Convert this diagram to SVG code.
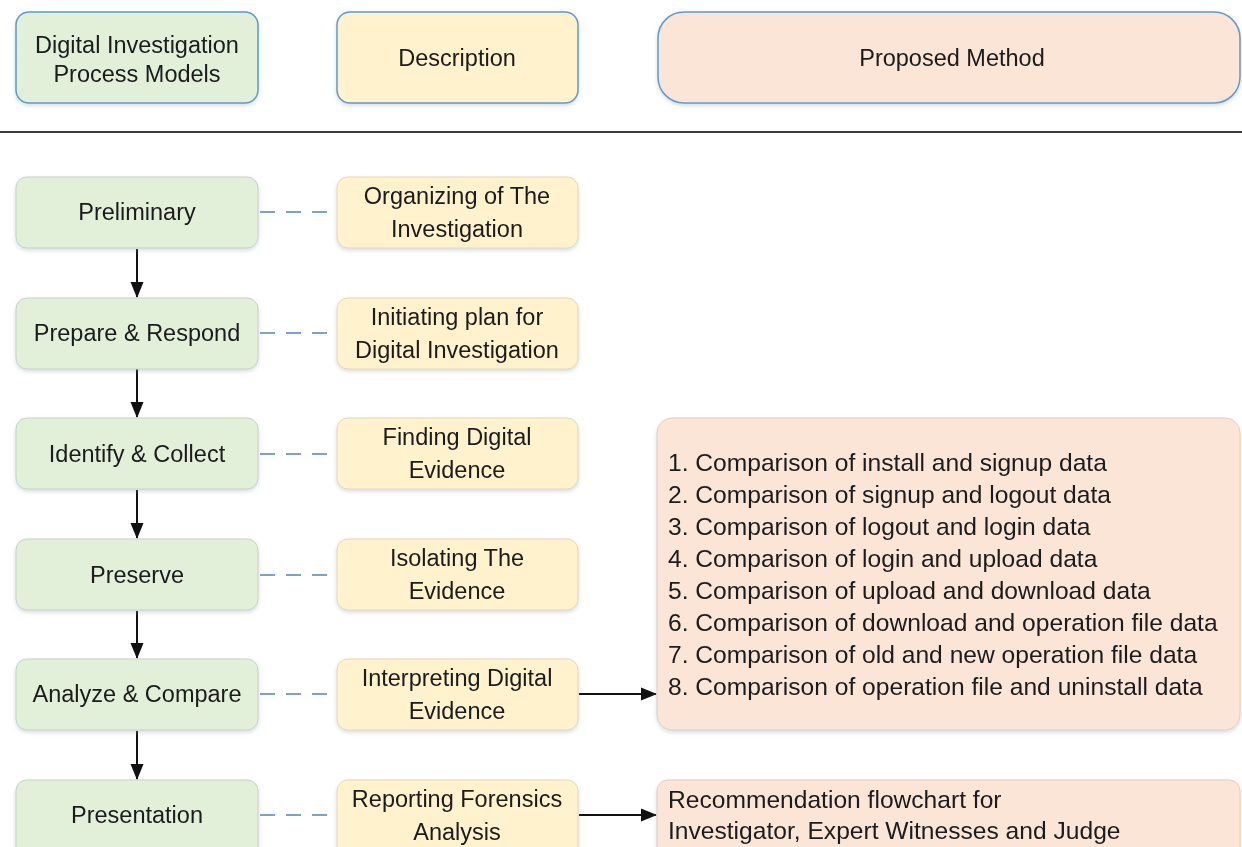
<svg xmlns="http://www.w3.org/2000/svg" width="1242" height="847" viewBox="0 0 1242 847">
  <defs>
    <style>
      text { font-family: "Liberation Sans", Arial, sans-serif; font-size: 23.5px; fill: #1a1a1a; }
      .c { text-anchor: middle; }
      .l { text-anchor: start; }
      .list { font-size: 24.6px; }
      .green { fill: #e2efd9; stroke: #c9d3c4; stroke-width: 1; }
      .yellow { fill: #fff2cc; stroke: #e3d8bb; stroke-width: 1; }
      .peach { fill: #fbe5d6; stroke: #e2cfc2; stroke-width: 1; }
      .head { stroke: #5b9bd5; stroke-width: 1.5; }
      .dash { stroke: #7aa3cc; stroke-width: 2.2; stroke-dasharray: 15 11; fill: none; }
      .arrow { stroke: #111; stroke-width: 2; fill: none; marker-end: url(#ah); }
    </style>
    <marker id="ah" markerWidth="18" markerHeight="16" refX="15" refY="8" orient="auto" markerUnits="userSpaceOnUse">
      <path d="M0,1.5 L16,8 L0,14.5 Z" fill="#111"/>
    </marker>
    <filter id="sh" x="-10%" y="-10%" width="120%" height="130%">
      <feDropShadow dx="0" dy="2" stdDeviation="2" flood-color="#8a9aa8" flood-opacity="0.35"/>
    </filter>
  </defs>

  <rect width="1242" height="847" fill="#ffffff"/>

  <!-- column headers -->
  <g id="hdr-models" filter="url(#sh)">
    <rect class="green head" x="16" y="12" width="242" height="91" rx="13"/>
    <text class="c" x="137" y="53">Digital Investigation</text>
    <text class="c" x="137" y="82">Process Models</text>
  </g>
  <g id="hdr-description" filter="url(#sh)">
    <rect class="yellow head" x="337" y="12" width="241" height="91" rx="13"/>
    <text class="c" x="457" y="66">Description</text>
  </g>
  <g id="hdr-method" filter="url(#sh)">
    <rect class="peach head" x="658" y="12" width="582" height="91" rx="26"/>
    <text class="c" x="952" y="66">Proposed Method</text>
  </g>

  <!-- divider -->
  <line x1="0" y1="132" x2="1242" y2="132" stroke="#3c3c3c" stroke-width="2"/>

  <!-- connectors -->
  <g id="connectors">
    <line class="dash" x1="260" y1="212" x2="336" y2="212"/>
    <line class="dash" x1="260" y1="333" x2="336" y2="333"/>
    <line class="dash" x1="260" y1="454" x2="336" y2="454"/>
    <line class="dash" x1="260" y1="575" x2="336" y2="575"/>
    <line class="dash" x1="260" y1="694" x2="336" y2="694"/>
    <line class="dash" x1="260" y1="815" x2="336" y2="815"/>
    <line class="arrow" x1="137" y1="249" x2="137" y2="297"/>
    <line class="arrow" x1="137" y1="369" x2="137" y2="417"/>
    <line class="arrow" x1="137" y1="490" x2="137" y2="538"/>
    <line class="arrow" x1="137" y1="611" x2="137" y2="658"/>
    <line class="arrow" x1="137" y1="731" x2="137" y2="779"/>
    <line class="arrow" x1="579" y1="694" x2="656" y2="694"/>
    <line class="arrow" x1="579" y1="815" x2="656" y2="815"/>
  </g>

  <!-- process model phases -->
  <g id="preliminary" filter="url(#sh)">
    <rect class="green" x="16" y="177" width="242" height="71" rx="11"/>
    <text class="c" x="137" y="220">Preliminary</text>
  </g>
  <g id="prepare-respond" filter="url(#sh)">
    <rect class="green" x="16" y="298" width="242" height="71" rx="11"/>
    <text class="c" x="137" y="341">Prepare &amp; Respond</text>
  </g>
  <g id="identify-collect" filter="url(#sh)">
    <rect class="green" x="16" y="418" width="242" height="71" rx="11"/>
    <text class="c" x="137" y="462">Identify &amp; Collect</text>
  </g>
  <g id="preserve" filter="url(#sh)">
    <rect class="green" x="16" y="539" width="242" height="71" rx="11"/>
    <text class="c" x="137" y="583">Preserve</text>
  </g>
  <g id="analyze-compare" filter="url(#sh)">
    <rect class="green" x="16" y="659" width="242" height="71" rx="11"/>
    <text class="c" x="137" y="702">Analyze &amp; Compare</text>
  </g>
  <g id="presentation" filter="url(#sh)">
    <rect class="green" x="16" y="780" width="242" height="80" rx="11"/>
    <text class="c" x="137" y="823">Presentation</text>
  </g>

  <!-- descriptions -->
  <g id="desc-organizing" filter="url(#sh)">
    <rect class="yellow" x="337" y="177" width="241" height="71" rx="11"/>
    <text class="c" x="457" y="204">Organizing of The</text>
    <text class="c" x="457" y="237">Investigation</text>
  </g>
  <g id="desc-initiating" filter="url(#sh)">
    <rect class="yellow" x="337" y="298" width="241" height="71" rx="11"/>
    <text class="c" x="457" y="325">Initiating plan for</text>
    <text class="c" x="457" y="358">Digital Investigation</text>
  </g>
  <g id="desc-finding" filter="url(#sh)">
    <rect class="yellow" x="337" y="418" width="241" height="71" rx="11"/>
    <text class="c" x="457" y="445">Finding Digital</text>
    <text class="c" x="457" y="478">Evidence</text>
  </g>
  <g id="desc-isolating" filter="url(#sh)">
    <rect class="yellow" x="337" y="539" width="241" height="71" rx="11"/>
    <text class="c" x="457" y="566">Isolating The</text>
    <text class="c" x="457" y="599">Evidence</text>
  </g>
  <g id="desc-interpreting" filter="url(#sh)">
    <rect class="yellow" x="337" y="659" width="241" height="71" rx="11"/>
    <text class="c" x="457" y="686">Interpreting Digital</text>
    <text class="c" x="457" y="719">Evidence</text>
  </g>
  <g id="desc-reporting" filter="url(#sh)">
    <rect class="yellow" x="337" y="780" width="241" height="80" rx="11"/>
    <text class="c" x="457" y="807">Reporting Forensics</text>
    <text class="c" x="457" y="840">Analysis</text>
  </g>

  <!-- proposed method -->
  <g id="method-comparisons" filter="url(#sh)">
    <rect class="peach" x="657" y="418" width="583" height="312" rx="15"/>
    <text class="l list" x="668" y="471">1. Comparison of install and signup data</text>
    <text class="l list" x="668" y="503">2. Comparison of signup and logout data</text>
    <text class="l list" x="668" y="535">3. Comparison of logout and login data</text>
    <text class="l list" x="668" y="567">4. Comparison of login and upload data</text>
    <text class="l list" x="668" y="599">5. Comparison of upload and download data</text>
    <text class="l list" x="668" y="631">6. Comparison of download and operation file data</text>
    <text class="l list" x="668" y="663">7. Comparison of old and new operation file data</text>
    <text class="l list" x="668" y="695">8. Comparison of operation file and uninstall data</text>
  </g>
  <g id="method-recommendation" filter="url(#sh)">
    <rect class="peach" x="657" y="780" width="583" height="80" rx="11"/>
    <text class="l list" x="668" y="808">Recommendation flowchart for</text>
    <text class="l list" x="668" y="839">Investigator, Expert Witnesses and Judge</text>
  </g>
</svg>
